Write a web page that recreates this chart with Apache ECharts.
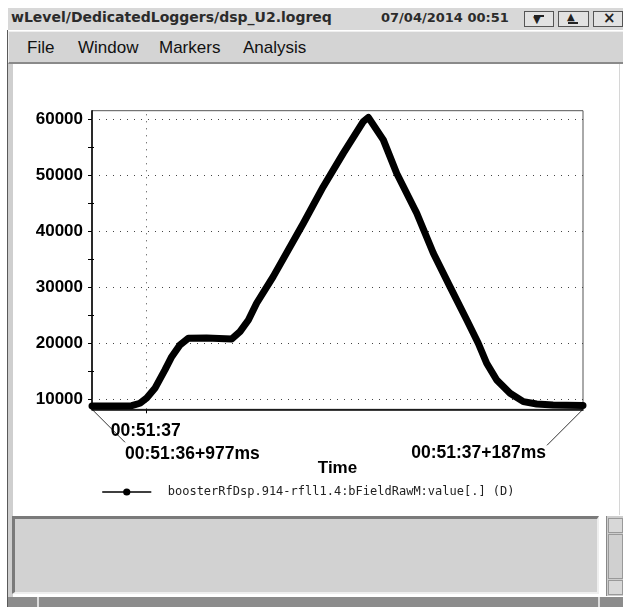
<!DOCTYPE html>
<html><head><meta charset="utf-8">
<script src="https://cdn.jsdelivr.net/npm/echarts@6/dist/echarts.min.js"></script>
<style>
html,body{margin:0;padding:0;}
body{width:623px;height:607px;position:relative;overflow:hidden;background:#fff;}
.a{position:absolute;box-sizing:border-box;}
#titlebar{left:8px;top:8px;width:615px;height:22px;background:#d8d8d8;}
#ttl{left:3px;top:1px;font:bold 14px "DejaVu Sans";color:#2b2b2b;white-space:nowrap;}
#date{left:373px;top:2px;font:bold 13px "DejaVu Sans";color:#2b2b2b;white-space:nowrap;}
.btn{top:3px;height:16px;border:1px solid #555;background:#e2e2e2;}
#menubar{left:8px;top:31px;width:615px;height:33px;background:#d4d4d4;border-top:1px solid #efefef;border-left:1px solid #efefef;border-bottom:2px solid #8a8a8a;}
.menu{top:6px;font:17px "Liberation Sans";color:#111;white-space:nowrap;}
#lb1{left:7px;top:30px;width:1px;height:577px;background:#5a5a5a;}
#lb2{left:8px;top:64px;width:5px;height:543px;background:#cfcfcf;}
#rb{left:619px;top:64px;width:1px;height:451px;background:#d6d6d6;}
#panel{left:12px;top:516px;width:587px;height:78px;background:#d2d2d2;border-top:3px solid #7a7a7a;border-left:3px solid #7a7a7a;border-bottom:2px solid #efefef;border-right:2px solid #efefef;}
#scroll{left:606px;top:516px;width:17px;height:80px;background:#cdcdcd;border-left:1px solid #888;}
#strip{left:8px;top:597px;width:615px;height:10px;background:#8c8c8c;}
#chart{left:0;top:0;width:623px;height:607px;}
</style></head>
<body>
<div id="titlebar" class="a">
  <span id="ttl" class="a">wLevel/DedicatedLoggers/dsp_U2.logreq</span>
  <span id="date" class="a">07/04/2014 00:51</span>
  <div class="a btn" style="left:516px;width:30px;">
    <div class="a" style="left:9px;top:3px;width:10px;height:2px;background:#222"></div>
    <div class="a" style="left:8px;top:2px;font:10px 'DejaVu Sans';color:#222;">▼</div>
  </div>
  <div class="a btn" style="left:550px;width:31px;">
    <div class="a" style="left:8px;top:-1px;font:10px 'DejaVu Sans';color:#222;">▲</div>
    <div class="a" style="left:9px;top:10px;width:10px;height:2px;background:#222"></div>
  </div>
  <div class="a btn" style="left:585px;width:30px;">
    <div class="a" style="left:9px;top:-3px;font:bold 15px 'DejaVu Sans';color:#222;">×</div>
  </div>
</div>
<div id="menubar" class="a">
  <span class="a menu" style="left:18px;">File</span>
  <span class="a menu" style="left:69px;">Window</span>
  <span class="a menu" style="left:150px;">Markers</span>
  <span class="a menu" style="left:234px;">Analysis</span>
</div>
<div id="lb1" class="a"></div>
<div id="lb2" class="a"></div>
<div id="rb" class="a"></div>
<div id="panel" class="a"></div>
<div id="scroll" class="a">
  <div class="a" style="left:1px;top:2px;width:15px;height:15px;border:1px solid #999;background:#d8d8d8;"></div>
  <div class="a" style="left:1px;top:18px;width:15px;height:45px;border:1px solid #999;background:#d0d0d0;"></div>
  <div class="a" style="left:1px;top:64px;width:15px;height:15px;border:1px solid #999;background:#d8d8d8;"></div>
</div>
<div id="strip" class="a">
  <div class="a" style="left:29px;top:0;width:2px;height:10px;background:#dcdcdc;"></div>
  <div class="a" style="left:590px;top:0;width:2px;height:10px;background:#dcdcdc;"></div>
</div>
<div id="chart" class="a"></div>
<script>
// ---- data (time in ms after 00:51:36) ----
const timeMs = [977, 985, 994, 997.5, 1000.4, 1003.9, 1008.2, 1011.1, 1014.6, 1018.2, 1026, 1036.8, 1040.3, 1043.9, 1047.4, 1054.5, 1067.4, 1075.9, 1084.5, 1093, 1095.2, 1101.6, 1107.3, 1115.9, 1123, 1130.1, 1137.3, 1142.2, 1145.8, 1150.1, 1155.8, 1161.5, 1167.2, 1174.2, 1180, 1187];
const bFieldRaw = [8750, 8760, 8800, 9230, 10180, 11900, 15200, 17570, 19670, 20870, 20900, 20740, 22050, 24140, 27130, 31900, 41450, 48000, 54000, 59640, 60400, 56370, 50400, 43240, 36080, 30100, 24140, 19970, 16390, 13400, 11020, 9520, 9100, 8930, 8870, 8840];
const seriesName = 'boosterRfDsp.914-rfll1.4:bFieldRawM:value[.] (D)';
const xMin = 977, xMax = 1187;
const yMin = 8150, yMax = 61600;
const yTickValues = [10000, 20000, 30000, 40000, 50000, 60000];
const yMinorValues = [15000, 25000, 35000, 45000, 55000];
const xTickValues = [1000];
const xTickLabels = ['00:51:37'];
const startLabel = '00:51:36+977ms';
const endLabel = '00:51:37+187ms';
const axisName = 'Time';

const chart = echarts.init(document.getElementById('chart'), null, {renderer: 'canvas'});
const labelFont = {fontFamily: 'Liberation Sans', fontWeight: 'bold', color: '#000'};
const dotted = {type: [1, 6], color: '#444', width: 1};

chart.setOption({
  animation: false,
  grid: {left: 92, top: 110.7, right: 40, bottom: 197.7, show: true, borderColor: '#555', borderWidth: 1},
  xAxis: {
    type: 'value', min: xMin, max: xMax,
    axisLine: {show: true, onZero: false, lineStyle: {color: '#000', width: 1.5}},
    axisTick: {show: true, customValues: xTickValues, length: 4, lineStyle: {color: '#000'}},
    axisLabel: Object.assign({customValues: xTickValues, fontSize: 17.5, margin: 13,
      formatter: v => xTickLabels[xTickValues.indexOf(v)] || ''}, labelFont),
    splitLine: {show: false},
    name: axisName, nameLocation: 'middle', nameGap: 51,
    nameTextStyle: Object.assign({fontSize: 17}, labelFont)
  },
  yAxis: [{
    type: 'value', min: yMin, max: yMax,
    axisLine: {show: true, lineStyle: {color: '#000', width: 1.5}},
    axisTick: {show: true, customValues: yTickValues.concat(yMinorValues), length: 4, lineStyle: {color: '#000'}},
    axisLabel: Object.assign({customValues: yTickValues, fontSize: 17, margin: 9, formatter: v => String(v)}, labelFont),
    splitLine: {show: false}
  }, {
    type: 'value', min: yMin, max: yMax, position: 'left',
    axisLine: {show: false},
    axisTick: {show: true, inside: true, customValues: yMinorValues, length: 2, lineStyle: {color: '#000'}},
    axisLabel: {show: false},
    splitLine: {show: false}
  }],
  legend: {
    data: [seriesName], left: 102, top: 486, padding: 0,
    itemWidth: 48, itemHeight: 9,
    lineStyle: {width: 1.5, color: '#000'},
    itemStyle: {color: '#000'},
    textStyle: {fontFamily: 'DejaVu Sans Mono', fontSize: 12, color: '#222', padding: [0, 0, 0, 12]}
  },
  series: [{
    type: 'line', name: seriesName,
    data: timeMs.map((t, i) => [t, bFieldRaw[i]]),
    color: '#000',
    showSymbol: false, symbol: 'circle', symbolSize: 7,
    clip: false,
    lineStyle: {width: 7, cap: 'round', join: 'round', color: '#000'},
    emphasis: {disabled: true},
    markLine: {
      silent: true, z: 1, symbol: ['none', 'none'], label: {show: false},
      lineStyle: dotted, emphasis: {disabled: true},
      data: yTickValues.map(v => ({yAxis: v})).concat(xTickValues.map(v => ({xAxis: v})))
    }
  }]
});

const p0 = chart.convertToPixel({xAxisIndex: 0, yAxisIndex: 0}, [xMin, yMin]);
const p1 = chart.convertToPixel({xAxisIndex: 0, yAxisIndex: 0}, [xMax, yMin]);
chart.setOption({
  graphic: [
    {type: 'line', silent: true, shape: {x1: p0[0], y1: p0[1], x2: p0[0] + 33, y2: p0[1] + 33}, style: {stroke: '#333', lineWidth: 1}},
    {type: 'text', silent: true, x: p0[0] + 33, y: p0[1] + 45,
      style: {text: startLabel, font: 'bold 17.5px "Liberation Sans"', fill: '#000', align: 'left', verticalAlign: 'middle'}},
    {type: 'line', silent: true, shape: {x1: p1[0], y1: p1[1], x2: p1[0] - 36, y2: p1[1] + 36}, style: {stroke: '#333', lineWidth: 1}},
    {type: 'text', silent: true, x: p1[0] - 37, y: p1[1] + 44,
      style: {text: endLabel, font: 'bold 17.5px "Liberation Sans"', fill: '#000', align: 'right', verticalAlign: 'middle'}}
  ]
});
</script>
</body></html>
